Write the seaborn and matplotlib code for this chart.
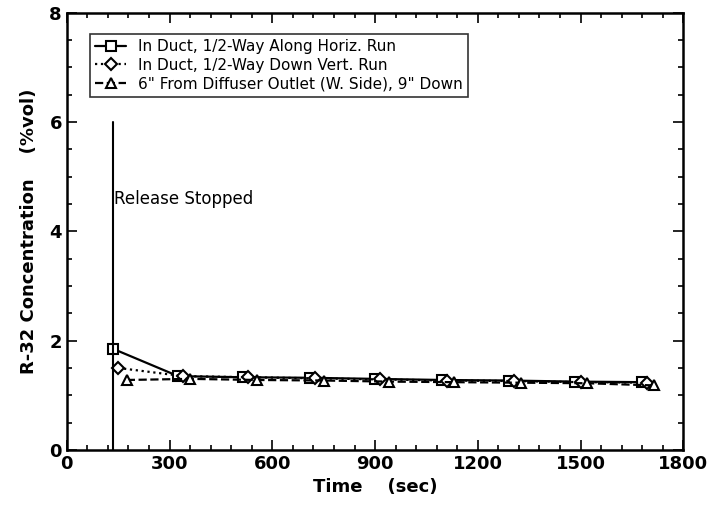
import matplotlib.pyplot as plt
import pandas as pd
import seaborn as sns
from matplotlib.ticker import MultipleLocator

sns.set_style('ticks')
plt.rcParams['font.family'] = ['DejaVu Sans']
plt.rcParams['xtick.direction'] = 'in'
plt.rcParams['ytick.direction'] = 'in'
for k in ['text.color', 'axes.labelcolor', 'xtick.color', 'ytick.color', 'axes.edgecolor']:
    plt.rcParams[k] = 'black'

# 数据
t_square = [135, 325, 515, 710, 900, 1095, 1290, 1485, 1680]
c_square = [1.85, 1.35, 1.33, 1.32, 1.30, 1.28, 1.27, 1.25, 1.24]
t_diamond = [150, 340, 530, 725, 915, 1110, 1305, 1500, 1695]
c_diamond = [1.50, 1.35, 1.33, 1.31, 1.29, 1.27, 1.26, 1.24, 1.23]
t_triangle = [175, 360, 555, 750, 940, 1130, 1325, 1520, 1715]
c_triangle = [1.28, 1.30, 1.28, 1.27, 1.25, 1.24, 1.23, 1.22, 1.18]

labels = ['In Duct, 1/2-Way Along Horiz. Run',
          'In Duct, 1/2-Way Down Vert. Run',
          '6" From Diffuser Outlet (W. Side), 9" Down']
release_time = 135

fig, ax = plt.subplots(figsize=(7.11, 5.13), dpi=100)
fig.subplots_adjust(left=0.094, right=0.961, bottom=0.123, top=0.975)

series = [
    (t_square, c_square, 's', '-'),
    (t_diamond, c_diamond, 'D', ':'),
    (t_triangle, c_triangle, '^', '--'),
]
for (t, c, mk, ls), lab in zip(series, labels):
    df = pd.DataFrame({'t': t, 'c': c})
    sns.lineplot(data=df, x='t', y='c', ax=ax, color='black', linestyle=ls, linewidth=1.6,
                 marker=mk, markersize=7 if mk != 'D' else 6, markerfacecolor='white',
                 markeredgecolor='black', markeredgewidth=1.5, label=lab, estimator=None)

ax.plot([release_time, release_time], [0, 6], color='black', linewidth=1.5)
ax.text(release_time + 4, 4.6, 'Release Stopped', fontsize=12, va='center', ha='left')

ax.set_xlim(0, 1800)
ax.set_ylim(0, 8)
ax.xaxis.set_major_locator(MultipleLocator(300))
ax.xaxis.set_minor_locator(MultipleLocator(60))
ax.yaxis.set_major_locator(MultipleLocator(2))
ax.yaxis.set_minor_locator(MultipleLocator(0.5))
ax.tick_params(which='both', top=True, right=True, width=1.2)
ax.tick_params(which='major', length=7, labelsize=13)
ax.tick_params(which='minor', length=3.5)
for lbl in ax.get_xticklabels() + ax.get_yticklabels():
    lbl.set_fontweight('bold')
for s in ax.spines.values():
    s.set_linewidth(1.8)

ax.set_xlabel('Time    (sec)', fontsize=13, fontweight='bold')
ax.set_ylabel('R-32 Concentration    (%vol)', fontsize=13, fontweight='bold', labelpad=8)

leg = ax.legend(loc='upper left', fontsize=11, frameon=True, fancybox=False,
                edgecolor='black', handlelength=2.0, borderpad=0.35, labelspacing=0.25,
                bbox_to_anchor=(0.025, 0.97))
leg.get_frame().set_linewidth(1.2)

plt.savefig('out.png', dpi=100)
